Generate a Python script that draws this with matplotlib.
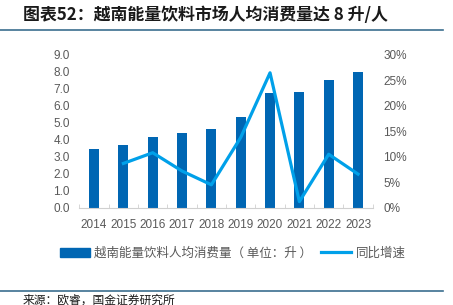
import numpy as np
import matplotlib.pyplot as plt
from matplotlib.lines import Line2D
from matplotlib.patches import Patch
from matplotlib.ticker import FuncFormatter, MultipleLocator

plt.rcParams['font.family'] = ['Liberation Sans', 'Noto Sans CJK SC', 'DejaVu Sans']

years = ['2014', '2015', '2016', '2017', '2018', '2019', '2020', '2021', '2022', '2023']
consumption = [3.45, 3.7, 4.15, 4.43, 4.65, 5.32, 6.75, 6.82, 7.53, 8.02]
growth = [None, 8.7, 10.8, 7.2, 4.5, 13.8, 26.5, 1.2, 10.5, 6.6]

bar_color = '#0066b3'
line_color = '#00a0e9'
tick_color = '#595959'

fig = plt.figure(figsize=(4.53, 3.05), dpi=100)
ax = fig.add_axes([0.1753, 0.319, 0.6474, 0.5007])
x = np.arange(len(years))
ax.bar(x, consumption, width=0.34, color=bar_color, zorder=2)
ax.set_xlim(-0.5, len(years) - 0.5)
ax.set_ylim(0, 9)
ax.yaxis.set_major_locator(MultipleLocator(1))
ax.yaxis.set_major_formatter(FuncFormatter(lambda v, p: f'{v:.1f}'))
ax.set_xticks(x)
ax.set_xticklabels(years)
ax.set_xticks(np.arange(-0.5, len(years)), minor=True)
ax.tick_params(axis='x', which='major', length=0, pad=8, labelsize=8.5, colors=tick_color)
ax.tick_params(axis='x', which='minor', direction='in', length=3, color='#d0d0d0')
ax.tick_params(axis='y', length=0, pad=7, labelsize=8.5, colors=tick_color)
for s in ['top', 'right', 'left']:
    ax.spines[s].set_visible(False)
ax.spines['bottom'].set_color('#d0d0d0')
ax.spines['bottom'].set_linewidth(0.8)

ax2 = ax.twinx()
gx = [i for i, g in enumerate(growth) if g is not None]
gy = [g for g in growth if g is not None]
ax2.plot(gx, gy, color=line_color, linewidth=2.3, zorder=3)
ax2.set_ylim(0, 30)
ax2.yaxis.set_major_locator(MultipleLocator(5))
ax2.yaxis.set_major_formatter(FuncFormatter(lambda v, p: f'{v:.0f}%'))
ax2.tick_params(axis='y', length=0, pad=7.5, labelsize=8.5, colors=tick_color)
for s in ['top', 'right', 'left', 'bottom']:
    ax2.spines[s].set_visible(False)

handles = [Patch(color=bar_color), Line2D([], [], color=line_color, linewidth=2.3)]
labels = ['越南能量饮料人均消费量（ 单位：升 ）', '同比增速']
fig.legend(handles, labels, loc='center', bbox_to_anchor=(0.514, 0.17), ncol=2,
           frameon=False, handlelength=2.4, handletextpad=0.35,
           columnspacing=0.7, labelcolor=tick_color,
           prop={'family': ['Noto Sans CJK SC'], 'size': 9.0})

fig.text(0.05, 0.95, '图表52：越南能量饮料市场人均消费量达 8 升/人', fontsize=12.2,
         fontweight='bold', family=['Noto Sans CJK SC'], va='center', ha='left', color='#1a1a1a')
fig.add_artist(Line2D([0, 0.978], [0.902, 0.902], color='#3b6e8f', linewidth=1.2))
fig.add_artist(Line2D([0, 0.978], [0.047, 0.047], color='#3b6e8f', linewidth=1.2))
fig.text(0.05, 0.017, '来源：欧睿，国金证券研究所', fontsize=8.5,
         family=['Noto Sans CJK SC'], va='center', ha='left', color='#1a1a1a')

fig.savefig('out.png', dpi=100)
